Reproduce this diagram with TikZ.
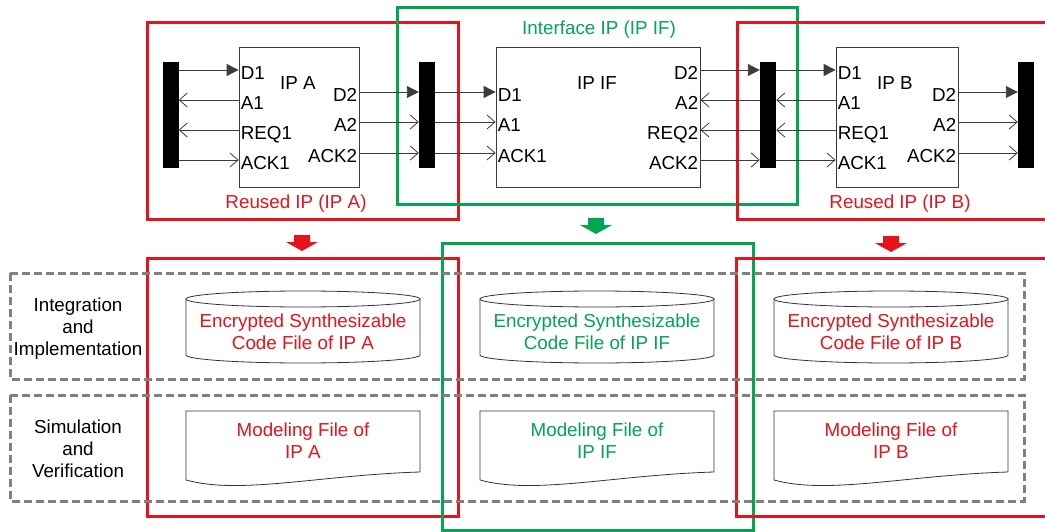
\documentclass[tikz,border=0pt]{standalone}
\usepackage{fontspec}
\setmainfont{Liberation Sans}
\usetikzlibrary{arrows.meta}

\definecolor{ipred}{RGB}{232,18,26}
\definecolor{ipgreen}{RGB}{0,166,81}
\definecolor{rowgray}{RGB}{128,128,128}
\definecolor{wiregray}{RGB}{60,60,60}

\begin{document}
\begin{tikzpicture}[x=1pt, y=-1pt,
        font=\fontsize{18.8}{22}\selectfont,
        bar/.style={fill=black, minimum width=16pt, minimum height=106pt, inner sep=0pt},
        ipbox/.style={draw=wiregray, line width=0.8pt, fill=white, minimum height=140pt, inner sep=0pt},
        port/.style={inner xsep=2pt, inner ysep=0pt, text height=19pt, text depth=0pt},
        wire/.style={draw=wiregray, line width=0.9pt},
        dat/.style={wire, -{Triangle[length=12pt,width=12pt]}},
        hs/.style={wire, -{Straight Barb[length=8pt,width=14pt,line width=0.8pt]}},
        redframe/.style={draw=ipred, line width=3pt},
        greenframe/.style={draw=ipgreen, line width=3pt},
        rowbox/.style={draw=rowgray, line width=3pt, dash pattern=on 8pt off 4pt},
        filebox/.style={draw=black!80, line width=0.8pt, fill=white}
    ]
        \useasboundingbox (0,0) rectangle (1045,532);
        \clip (0,0) rectangle (1045,532);

        % Frames around the reused IPs and the interface IP
        \draw[redframe] (147,23) rectangle (458,220);
        \draw[greenframe] (397,8) rectangle (797,205);
        \draw[redframe] (737,23) rectangle (1060,220);

        \node[text=ipgreen, anchor=base] (ifTitle) at (599,35) {Interface IP (IP IF)};
        \node[text=ipred, anchor=base] (aTitle) at (296,208) {Reused IP (IP A)};
        \node[text=ipred, anchor=base] (bTitle) at (900,208) {Reused IP (IP B)};

        % Buses
        \node[bar] (barA) at (170.5,115) {};
        \node[bar] (barAF) at (427,115) {};
        \node[bar] (barFB) at (768,115) {};
        \node[bar] (barB) at (1026,115) {};

        % IP blocks
        \node[ipbox, minimum width=120pt] (ipA) at (299,117) {};
        \node[ipbox, minimum width=204pt] (ipIF) at (598,117) {};
        \node[ipbox, minimum width=122pt] (ipB) at (897,117) {};

        \node (ipAname) at (298,83) {IP A};
        \node (ipIFname) at (597,83) {IP IF};
        \node (ipBname) at (895,83) {IP B};

        % Ports of IP A
        \node[port, anchor=west] (aD1) at (ipA.west |- 0,70) {D1};
        \node[port, anchor=west] (aA1) at (ipA.west |- 0,100) {A1};
        \node[port, anchor=west] (aREQ1) at (ipA.west |- 0,130) {REQ1};
        \node[port, anchor=west] (aACK1) at (ipA.west |- 0,160) {ACK1};
        \node[port, anchor=east] (aD2) at (ipA.east |- 0,92) {D2};
        \node[port, anchor=east] (aA2) at (ipA.east |- 0,122) {A2};
        \node[port, anchor=east] (aACK2) at (ipA.east |- 0,153) {ACK2};

        % Ports of IP IF
        \node[port, anchor=west] (fD1) at (ipIF.west |- 0,92) {D1};
        \node[port, anchor=west] (fA1) at (ipIF.west |- 0,122) {A1};
        \node[port, anchor=west] (fACK1) at (ipIF.west |- 0,153) {ACK1};
        \node[port, anchor=east] (fD2) at (ipIF.east |- 0,70) {D2};
        \node[port, anchor=east] (fA2) at (ipIF.east |- 0,100) {A2};
        \node[port, anchor=east] (fREQ2) at (ipIF.east |- 0,130) {REQ2};
        \node[port, anchor=east] (fACK2) at (ipIF.east |- 0,160) {ACK2};

        % Ports of IP B
        \node[port, anchor=west] (bD1) at (ipB.west |- 0,70) {D1};
        \node[port, anchor=west] (bA1) at (ipB.west |- 0,100) {A1};
        \node[port, anchor=west] (bREQ1) at (ipB.west |- 0,130) {REQ1};
        \node[port, anchor=west] (bACK1) at (ipB.west |- 0,160) {ACK1};
        \node[port, anchor=east] (bD2) at (ipB.east |- 0,92) {D2};
        \node[port, anchor=east] (bA2) at (ipB.east |- 0,122) {A2};
        \node[port, anchor=east] (bACK2) at (ipB.east |- 0,153) {ACK2};

        % Wires between buses and IPs
        \draw[dat] (barA.east |- aD1) -- (aD1.west);
        \draw[hs] (aA1.west) -- (barA.east |- aA1);
        \draw[hs] (aREQ1.west) -- (barA.east |- aREQ1);
        \draw[hs] (barA.east |- aACK1) -- (aACK1.west);

        \draw[dat] (aD2.east) -- (barAF.west |- aD2);
        \draw[hs] (aA2.east) -- (barAF.west |- aA2);
        \draw[hs] (aACK2.east) -- (barAF.west |- aACK2);

        \draw[dat] (barAF.east |- fD1) -- (fD1.west);
        \draw[hs] (barAF.east |- fA1) -- (fA1.west);
        \draw[hs] (barAF.east |- fACK1) -- (fACK1.west);

        \draw[dat] (fD2.east) -- (barFB.west |- fD2);
        \draw[hs] (barFB.west |- fA2) -- (fA2.east);
        \draw[hs] (barFB.west |- fREQ2) -- (fREQ2.east);
        \draw[hs] (fACK2.east) -- (barFB.west |- fACK2);

        \draw[dat] (barFB.east |- bD1) -- (bD1.west);
        \draw[hs] (bA1.west) -- (barFB.east |- bA1);
        \draw[hs] (bREQ1.west) -- (barFB.east |- bREQ1);
        \draw[hs] (barFB.east |- bACK1) -- (bACK1.west);

        \draw[dat] (bD2.east) -- (barB.west |- bD2);
        \draw[hs] (bA2.east) -- (barB.west |- bA2);
        \draw[hs] (bACK2.east) -- (barB.west |- bACK2);

        % Block arrows down to the deliverables
        \fill[ipred] (294,235) -- ++(16,0) -- ++(0,7) -- ++(8,0) -- ++(-16,9) -- ++(-16,-9) -- ++(8,0) -- cycle;
        \fill[ipgreen] (588,218) -- ++(16,0) -- ++(0,7) -- ++(8,0) -- ++(-16,9) -- ++(-16,-9) -- ++(8,0) -- cycle;
        \fill[ipred] (883,236) -- ++(16,0) -- ++(0,7) -- ++(8,0) -- ++(-16,9) -- ++(-16,-9) -- ++(8,0) -- cycle;

        % Lower frames
        \draw[redframe] (147,258) rectangle (458,516);
        \draw[greenframe] (442,243) rectangle (753,530);
        \draw[redframe] (736,258) rectangle (1060,516);

        % Rows
        \draw[rowbox] (10,273) rectangle (1024,379);
        \draw[rowbox] (10,395) rectangle (1024,501);

        \node[align=center] (rowImpl) at (78,329) {Integration\\and\\Implementation};
        \node[align=center] (rowSim) at (78,449) {Simulation\\and\\Verification};

        % Encrypted code files (cylinders)
        \draw[filebox] (186,299) -- (186,355) arc[start angle=180, end angle=360, x radius=117pt, y radius=8pt] -- (420,299) -- cycle;
        \draw[filebox] (303,299) ellipse[x radius=117pt, y radius=8pt];
        \draw[filebox] (480,299) -- (480,355) arc[start angle=180, end angle=360, x radius=117pt, y radius=8pt] -- (714,299) -- cycle;
        \draw[filebox] (597,299) ellipse[x radius=117pt, y radius=8pt];
        \draw[filebox] (774,299) -- (774,355) arc[start angle=180, end angle=360, x radius=117pt, y radius=8pt] -- (1008,299) -- cycle;
        \draw[filebox] (891,299) ellipse[x radius=117pt, y radius=8pt];

        \node[text=ipred, align=center] (codeA) at (303,332) {Encrypted Synthesizable\\Code File of IP A};
        \node[text=ipgreen, align=center] (codeIF) at (597,332) {Encrypted Synthesizable\\Code File of IP IF};
        \node[text=ipred, align=center] (codeB) at (891,332) {Encrypted Synthesizable\\Code File of IP B};

        % Modeling files (documents)
        \draw[filebox] (186,411) -- (420,411) -- (420,472) .. controls (320,475) and (240,495) .. (186,480) -- cycle;
        \draw[filebox] (480,411) -- (714,411) -- (714,472) .. controls (614,475) and (534,495) .. (480,480) -- cycle;
        \draw[filebox] (774,411) -- (1008,411) -- (1008,472) .. controls (908,475) and (828,495) .. (774,480) -- cycle;

        \node[text=ipred, align=center] (modA) at (303,441) {Modeling File of\\IP A};
        \node[text=ipgreen, align=center] (modIF) at (597,441) {Modeling File of\\IP IF};
        \node[text=ipred, align=center] (modB) at (891,441) {Modeling File of\\IP B};

    \end{tikzpicture}
\end{document}
